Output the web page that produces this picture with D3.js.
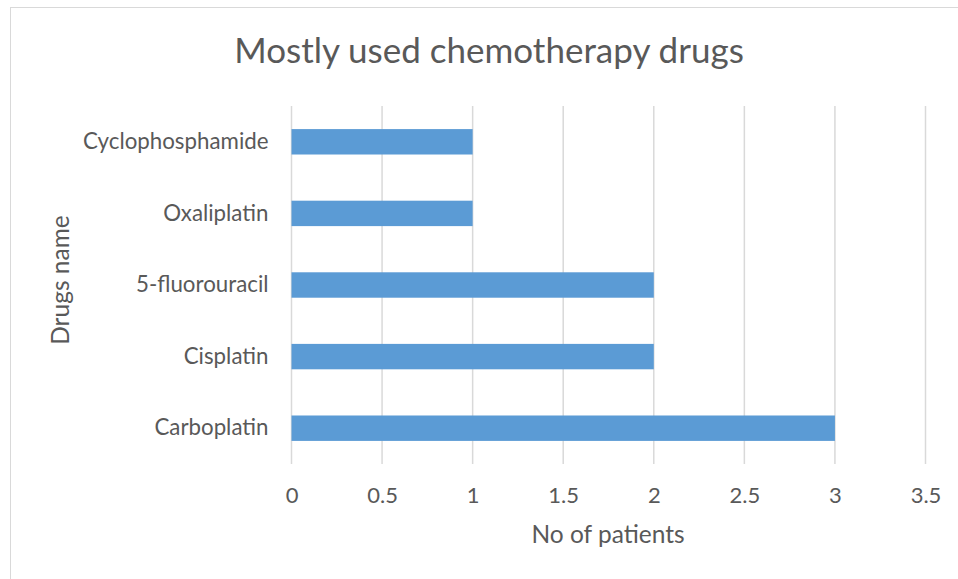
<!DOCTYPE html>
<html>
<head>
<meta charset="utf-8">
<script src="https://cdn.jsdelivr.net/npm/d3@7"></script>
<style>
  body { margin: 0; background: #fff; }
  text { font-family: Lato, "Open Sans", sans-serif; fill: #595959; }
</style>
</head>
<body>
<div id="container"></div>
<script>
/* DATA */
const drugs = ["Cyclophosphamide", "Oxaliplatin", "5-fluorouracil", "Cisplatin", "Carboplatin"];
const patients = [1, 1, 2, 2, 3];
const xTicks = [0, 0.5, 1, 1.5, 2, 2.5, 3, 3.5];

/* CONSTANTS */
const width = 958, height = 579,
  margin = { top: 106, bottom: 115, left: 291.5, right: 32.5 };

const svg = d3.select("#container")
  .append("svg")
  .attr("width", width)
  .attr("height", height);

// chart border
svg.append("rect")
  .attr("x", 10.5).attr("y", 7.5)
  .attr("width", 958).attr("height", 590)
  .attr("fill", "none")
  .attr("stroke", "#d9d9d9")
  .attr("stroke-width", 1);

/* SCALES */
const xScale = d3.scaleLinear()
  .domain([0, 3.5])
  .range([margin.left, width - margin.right]);

const yScale = d3.scaleBand()
  .domain(drugs)
  .range([margin.top, height - margin.bottom])
  .padding(0);

// gridlines
svg.append("g")
  .selectAll("line")
  .data(xTicks)
  .join("line")
  .attr("x1", d => xScale(d))
  .attr("x2", d => xScale(d))
  .attr("y1", margin.top)
  .attr("y2", height - margin.bottom)
  .attr("stroke", "#d9d9d9")
  .attr("stroke-width", 1.5);

// bars
const barH = yScale.bandwidth() * 0.355;
svg.append("g")
  .selectAll("rect")
  .data(drugs)
  .join("rect")
  .attr("x", xScale(0))
  .attr("y", d => yScale(d) + (yScale.bandwidth() - barH) / 2)
  .attr("width", (d, i) => xScale(patients[i]) - xScale(0))
  .attr("height", barH)
  .attr("fill", "#5b9bd5");

// axes
const xAxis = d3.axisBottom(xScale)
  .tickValues(xTicks)
  .tickSize(0)
  .tickPadding(23)
  .tickFormat(d => String(d));
svg.append("g")
  .attr("transform", `translate(0,${height - margin.bottom})`)
  .call(xAxis)
  .call(g => g.select(".domain").remove())
  .selectAll("text")
  .style("font-size", "22px")
  .style("font-family", "Lato, sans-serif")
  .attr("fill", "#595959");

const yAxis = d3.axisLeft(yScale)
  .tickSize(0)
  .tickPadding(23);
svg.append("g")
  .attr("transform", `translate(${margin.left},0)`)
  .call(yAxis)
  .call(g => g.select(".domain").remove())
  .selectAll("text")
  .style("font-size", "22.3px")
  .style("font-family", "Lato, sans-serif")
  .attr("fill", "#595959");

// titles
svg.append("text")
  .attr("x", 489)
  .attr("y", 63)
  .attr("text-anchor", "middle")
  .style("font-size", "35px")
  .text("Mostly used chemotherapy drugs");

svg.append("text")
  .attr("x", 608)
  .attr("y", 543)
  .attr("text-anchor", "middle")
  .style("font-size", "24.5px")
  .text("No of patients");

svg.append("text")
  .attr("transform", "rotate(-90)")
  .attr("x", -280)
  .attr("y", 69)
  .attr("text-anchor", "middle")
  .style("font-size", "24.5px")
  .text("Drugs name");
</script>
</body>
</html>
